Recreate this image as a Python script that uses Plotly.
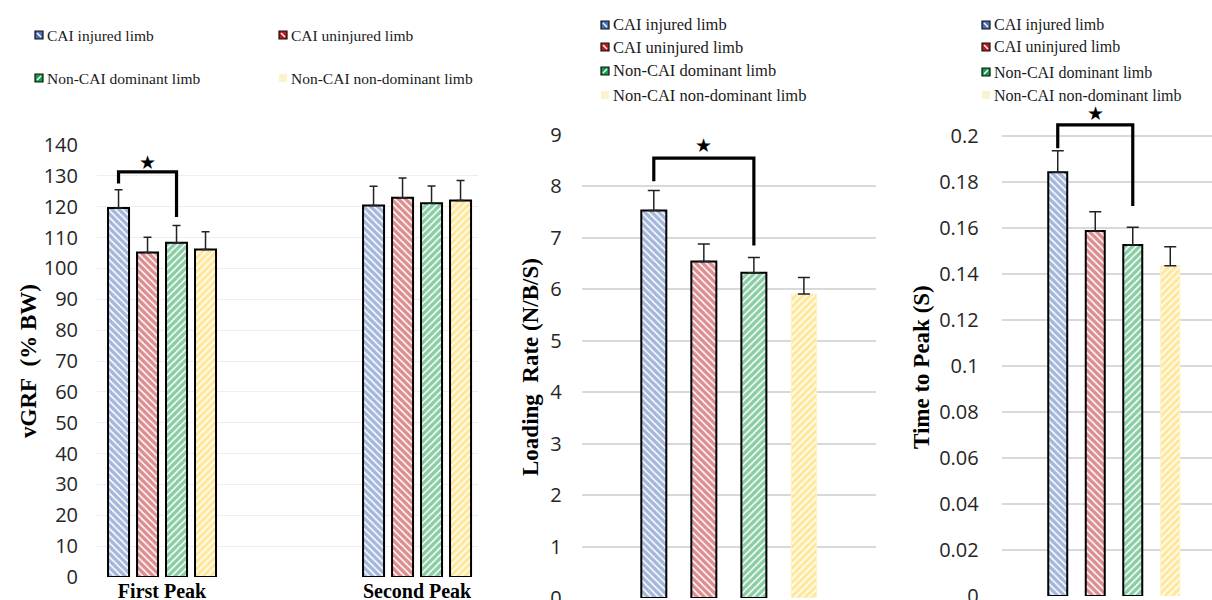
import plotly.graph_objects as go

# ---------------- data ----------------
series = ["CAI injured limb", "CAI uninjured limb", "Non-CAI dominant limb", "Non-CAI non-dominant limb"]
colors = ["#4A6FB5", "#BA1C22", "#159C4B", "#FFCF3A"]
patterns = ["\\", "\\", "/", "/"]

peak_labels = ["First Peak", "Second Peak"]
vgrf_first = [119.6, 105.2, 108.3, 106.1]
vgrf_first_err = [5.9, 4.9, 5.6, 5.8]
vgrf_second = [120.4, 122.9, 121.1, 122.0]
vgrf_second_err = [6.2, 6.4, 5.6, 6.5]

loading_rate = [7.53, 6.54, 6.32, 5.91]
loading_rate_err = [0.39, 0.34, 0.30, 0.32]

time_to_peak = [0.1842, 0.1587, 0.1526, 0.1436]
time_to_peak_err = [0.0094, 0.0084, 0.0077, 0.0083]

vgrf_ticks = list(range(0, 141, 10))
lr_ticks = list(range(0, 10))
ttp_tickvals = [0, 0.02, 0.04, 0.06, 0.08, 0.1, 0.12, 0.14, 0.16, 0.18, 0.2]
ttp_ticktext = ["0", "0.02", "0.04", "0.06", "0.08", "0.1", "0.12", "0.14", "0.16", "0.18", "0.2"]

# ---------------- layout helpers ----------------
W, H = 1212, 600
def px(x):
    return x / W
def py(y):
    return 1 - y / H

TICK_FONT = dict(family="Open Sans", size=20, color="#262626")
SERIF = "Liberation Serif"

fig = go.Figure()

# panel geometry: (slot width, bar width) in axis units
panels = {
    "p1": dict(slot=0.1137, width=0.0824, xa="x", ya="y"),
    "p2": dict(slot=0.170, width=0.085, xa="x2", ya="y2"),
    "p3": dict(slot=0.167, width=0.0846, xa="x3", ya="y3"),
}

def offset(p, i):
    g = panels[p]
    return (i - 2) * g["slot"] + (g["slot"] - g["width"]) / 2

def center(p, i):
    return offset(p, i) + panels[p]["width"] / 2

def bar_marker(i, panel):
    line_color = "black"
    line_w = 2
    if i == 3 and panel != "p1":
        line_color = "#FFF0C0"
        line_w = 1.0
    return dict(
        color="white",
        pattern=dict(shape=patterns[i], fgcolor=colors[i], bgcolor="white", size=5, solidity=0.7),
        line=dict(color=line_color, width=line_w),
    )

for i, name in enumerate(series):
    # Panel 1 : vGRF
    fig.add_trace(go.Bar(
        x=peak_labels, y=[vgrf_first[i], vgrf_second[i]],
        error_y=dict(type="data", symmetric=False, array=[vgrf_first_err[i], vgrf_second_err[i]],
                     arrayminus=[0, 0], color="#222222", thickness=1.5, width=4),
        width=panels["p1"]["width"], offset=offset("p1", i),
        marker=bar_marker(i, "p1"), name=name, showlegend=False,
        xaxis="x", yaxis="y"))
    # Panel 2 : loading rate
    fig.add_trace(go.Bar(
        x=[0], y=[loading_rate[i]],
        error_y=dict(type="data", symmetric=False, array=[loading_rate_err[i]], arrayminus=[0],
                     color="#222222", thickness=1.5, width=6),
        width=panels["p2"]["width"], offset=offset("p2", i),
        marker=bar_marker(i, "p2"), name=name, showlegend=False,
        xaxis="x2", yaxis="y2"))
    # Panel 3 : time to peak
    fig.add_trace(go.Bar(
        x=[0], y=[time_to_peak[i]],
        error_y=dict(type="data", symmetric=False, array=[time_to_peak_err[i]], arrayminus=[0],
                     color="#222222", thickness=1.5, width=6),
        width=panels["p3"]["width"], offset=offset("p3", i),
        marker=bar_marker(i, "p3"), name=name, showlegend=False,
        xaxis="x3", yaxis="y3"))

shapes = []
annotations = []

# significance brackets: (panel, left-leg bottom, top, right-leg bottom, star y)
brackets = [
    ("p1", 127.5, 131.3, 116.7, 134.6),
    ("p2", 8.10, 8.55, 6.85, 8.80),
    ("p3", 0.1947, 0.2048, 0.1696, 0.2100),
]
for p, yl, yt, yr, ys in brackets:
    g = panels[p]
    x0 = center(p, 0)
    x1 = center(p, 2)
    shapes.append(dict(type="path", xref=g["xa"], yref=g["ya"],
                       path=f"M {x0},{yl} L {x0},{yt} L {x1},{yt} L {x1},{yr}",
                       line=dict(color="black", width=3.2)))
    annotations.append(dict(x=(x0 + x1) / 2, y=ys, xref=g["xa"], yref=g["ya"], text="★",
                            showarrow=False, font=dict(family="DejaVu Sans", size=19, color="black"),
                            yanchor="middle"))

# axis titles
axis_titles = [
    ("vGRF\u00a0\u00a0(%\u00a0BW)", 28, 361),
    ("Loading\u00a0\u00a0Rate\u00a0(N/B/S)", 530, 367),
    ("Time\u00a0to\u00a0Peak\u00a0(S)", 921, 367),
]
for t, x, y in axis_titles:
    annotations.append(dict(x=px(x), y=py(y), xref="paper", yref="paper", text=f"<b>{t}</b>",
                            textangle=-90, showarrow=False,
                            font=dict(family=SERIF, size=23, color="black"),
                            xanchor="center", yanchor="middle"))

# legends (drawn as text + swatches): (positions, font size)
legend_layouts = [
    ([(35, 35), (279, 35), (35, 78), (279, 78)], 15.5),
    ([(601, 25), (601, 47), (601, 71), (601, 95)], 16.5),
    ([(982, 25), (982, 47), (982, 72), (982, 95)], 16),
]
for lay, fsize in legend_layouts:
    for i, (lx, ly) in enumerate(lay):
        if i == 3:
            shapes.append(dict(type="rect", xref="paper", yref="paper",
                               x0=px(lx), x1=px(lx + 8), y0=py(ly + 4), y1=py(ly - 4),
                               fillcolor="#FBF3CF", line=dict(width=0)))
        else:
            shapes.append(dict(type="rect", xref="paper", yref="paper",
                               x0=px(lx), x1=px(lx + 8), y0=py(ly + 4), y1=py(ly - 4),
                               fillcolor=colors[i], line=dict(color="#111111", width=1.2)))
            if patterns[i] == "\\":
                shapes.append(dict(type="line", xref="paper", yref="paper",
                                   x0=px(lx + 2), y0=py(ly - 2), x1=px(lx + 6), y1=py(ly + 2),
                                   line=dict(color="white", width=1.5)))
            else:
                shapes.append(dict(type="line", xref="paper", yref="paper",
                                   x0=px(lx + 2), y0=py(ly + 2), x1=px(lx + 6), y1=py(ly - 2),
                                   line=dict(color="white", width=1.5)))
        annotations.append(dict(x=px(lx + 10), y=py(ly), xref="paper", yref="paper",
                                text=series[i], showarrow=False, xanchor="left", yanchor="middle",
                                font=dict(family=SERIF, size=fsize, color="#1a1a1a")))

fig.update_layout(
    width=W, height=H, autosize=False,
    margin=dict(l=0, r=0, t=0, b=0, pad=0, autoexpand=False),
    paper_bgcolor="white", plot_bgcolor="white",
    barmode="overlay",
    showlegend=False,
    shapes=shapes, annotations=annotations,
    xaxis=dict(domain=[px(97), px(478)], range=[-0.255, 1.239], type="category",
               anchor="y", showgrid=False, zeroline=False, showline=False, ticks="",
               tickfont=dict(family=SERIF, size=20, color="black"), automargin=False,
               ticktext=[f"<b>{c}</b>" for c in peak_labels], tickvals=peak_labels,
               ticklabelstandoff=0, ticklabeloverflow="allow"),
    yaxis=dict(domain=[py(577), py(145)], range=[0, 140], tickvals=vgrf_ticks,
               anchor="x", showgrid=True, gridcolor="#EEEEEE", gridwidth=1, automargin=False,
               zeroline=False, showline=False, ticks="", tickfont=TICK_FONT,
               ticklabelstandoff=18, ticklabeloverflow="allow"),
    xaxis2=dict(domain=[px(581.7), px(876)], range=[-0.5, 0.5], anchor="y2", automargin=False,
                showgrid=False, zeroline=False, showline=False, showticklabels=False, ticks=""),
    yaxis2=dict(domain=[py(598), py(135)], range=[0, 9], tickvals=lr_ticks, anchor="x2",
                showgrid=True, gridcolor="#D9D9D9", gridwidth=2, zeroline=False, showline=False,
                ticks="", tickfont=TICK_FONT, ticklabelstandoff=19, automargin=False,
                ticklabeloverflow="allow"),
    xaxis3=dict(domain=[px(1001.7), 1.0], range=[-0.5, 0.4363], anchor="y3", automargin=False,
                showgrid=False, zeroline=False, showline=False, showticklabels=False, ticks=""),
    yaxis3=dict(domain=[py(596), py(101.5)], range=[0, 0.215], tickvals=ttp_tickvals,
                ticktext=ttp_ticktext, anchor="x3", automargin=False,
                showgrid=True, gridcolor="#D9D9D9", gridwidth=2, zeroline=False, showline=False,
                ticks="", tickfont=TICK_FONT, ticklabelstandoff=22, ticklabeloverflow="allow"),
)

post = (
    "document.documentElement.style.margin='0';"
    "document.body.style.margin='0';document.body.style.overflow='hidden';"
)

fig.write_html("out.html", config={"displayModeBar": False}, post_script=post)
